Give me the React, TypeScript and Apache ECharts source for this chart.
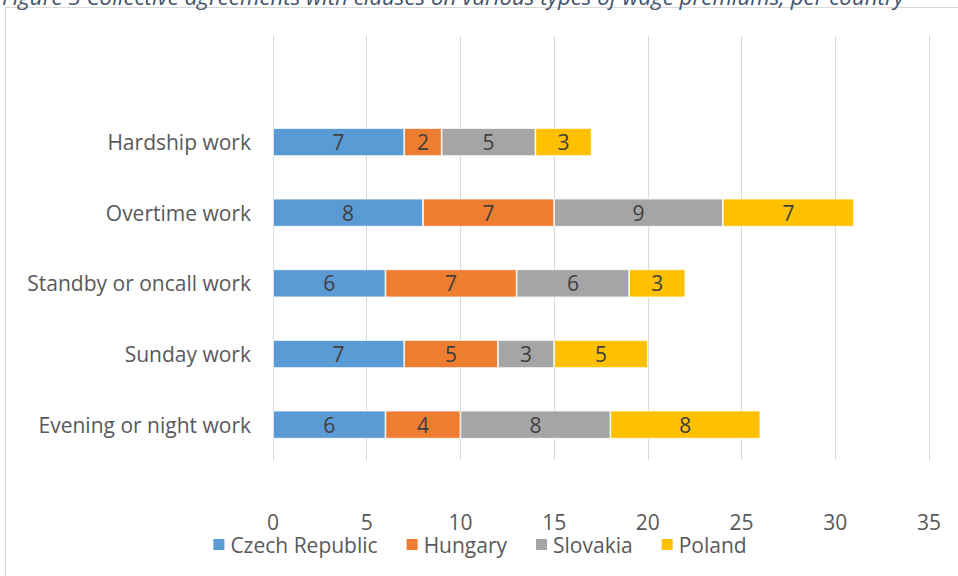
import React, { useEffect, useRef } from "react";
import * as echarts from "echarts";

const categories = [
  "Evening or night work",
  "Sunday work",
  "Standby or oncall work",
  "Overtime work",
  "Hardship work",
  "",
];
const czech = [6, 7, 6, 8, 7];
const hungary = [4, 5, 7, 7, 2];
const slovakia = [8, 3, 6, 9, 5];
const poland = [8, 5, 3, 7, 3];
const seriesNames = ["Czech Republic", "Hungary", "Slovakia", "Poland"];
const colors = ["#5B9BD5", "#ED7D31", "#A5A5A5", "#FFC000"];
const titleText =
  "Figure 3 Collective agreements with clauses on various types of wage premiums, per country";

const FONT = "'Open Sans', sans-serif";
const FS = 21;

export default function App() {
  const ref = useRef<HTMLDivElement>(null);
  useEffect(() => {
    if (!ref.current) return;
    const chart = echarts.init(ref.current, undefined, { renderer: "svg" });
    const datasets = [czech, hungary, slovakia, poland];
    chart.setOption({
      animation: false,
      textStyle: { fontFamily: FONT },
      graphic: [
        {
          type: "rect",
          shape: { x: 5.5, y: 7.5, width: 1000, height: 600 },
          style: { fill: "none", stroke: "#d9d9d9", lineWidth: 1 },
          silent: true,
        },
        {
          type: "text",
          x: 2,
          y: 7,
          style: {
            text: titleText,
            fontFamily: FONT,
            fontSize: 22.3,
            fontStyle: "italic",
            fill: "#44546A",
            verticalAlign: "bottom",
          },
        },
      ],
      grid: { left: 273, right: 29, top: 36, bottom: 116 },
      legend: {
        bottom: 16,
        left: "center",
        itemWidth: 13,
        itemHeight: 13,
        itemGap: 27,
        icon: "rect",
        textStyle: { color: "#595959", fontSize: FS, fontFamily: FONT, lineHeight: 20 },
        data: seriesNames,
      },
      xAxis: {
        type: "value",
        min: 0,
        max: 35,
        interval: 5,
        axisLine: { show: false },
        axisTick: { show: false },
        splitLine: { lineStyle: { color: "#d9d9d9", width: 1 } },
        axisLabel: {
          color: "#595959",
          fontSize: FS,
          margin: 52,
          fontFamily: FONT,
          lineHeight: 20,
        },
      },
      yAxis: {
        type: "category",
        data: categories,
        axisLine: { show: false },
        axisTick: { show: false },
        axisLabel: { color: "#595959", fontSize: FS, margin: 22, fontFamily: FONT },
      },
      series: seriesNames.map((name, i) => ({
        name,
        type: "bar",
        stack: "total",
        barWidth: 28,
        data: datasets[i],
        itemStyle: { color: colors[i], borderColor: "#ffffff", borderWidth: 0.75 },
        label: {
          show: true,
          position: "inside",
          color: "#404040",
          fontSize: FS,
          fontFamily: FONT,
          lineHeight: 22,
        },
      })),
    });
    return () => chart.dispose();
  }, []);
  return (
    <div
      ref={ref}
      style={{ position: "fixed", left: 0, top: 0, width: 958, height: 576, background: "#fff" }}
    />
  );
}
